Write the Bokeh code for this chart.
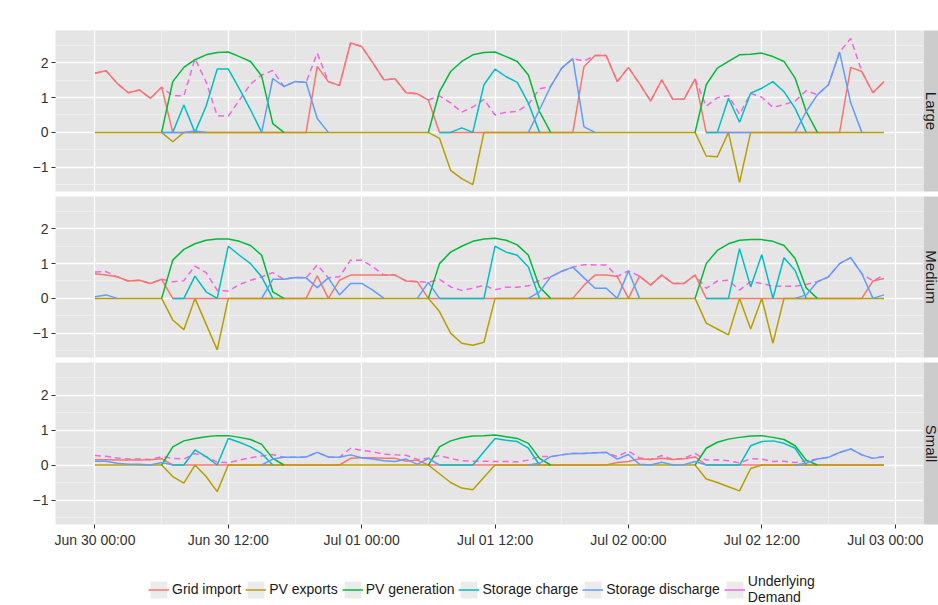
import math
import numpy as np
from bokeh.plotting import figure
from bokeh.models import (ColumnDataSource, Range1d, FixedTicker, DatetimeTickFormatter,
                          Label, Legend, LegendItem)
from bokeh.layouts import column, row
from bokeh.embed import file_html
from bokeh.resources import INLINE

N = float("nan")

# ---------------- data (hourly, Jun 30 00:00 .. Jul 02 23:00) ----------------
start = np.datetime64("2013-06-30T00:00")
hours = list(range(72))

series_names = ["Grid import", "PV exports", "PV generation", "Storage charge",
                "Storage discharge", "Underlying\nDemand"]
series_colors = ["#F8766D", "#B79F00", "#00BA38", "#00BFC4", "#619CFF", "#F564E3"]
panel_names = ["Large", "Medium", "Small"]
title_text = "Winter - QLD"
y_label = "Load (kW)"
y_ticks = [-1, 0, 1, 2]
y_minor = [-1.5, -0.5, 0.5, 1.5, 2.5]

large_grid = [
    1.70, 1.77, 1.41, 1.14, 1.22, 0.98, 1.30, 0, 0, 0, 0, 0,
    0, 0, 0, 0, 0, 0, 0, 0, 1.90, 1.46, 1.35, 2.57,
    2.47, 2.00, 1.51, 1.54, 1.14, 1.11, 0.93, 0, 0, 0, 0, 0,
    0, 0, 0, 0, 0, 0, 0, 0, 1.89, 2.21, 2.21, 1.46,
    1.87, 1.40, 0.90, 1.51, 0.95, 0.95, 1.54, 0, 0, 0, 0, 0,
    0, 0, 0, 0, 0, 0, 0, 0, 1.87, 1.75, 1.14, 1.46]
large_exports = [
    0, 0, 0, 0, 0, 0, 0, -0.27, 0, 0, 0, 0,
    0, 0, 0, 0, 0, 0, 0, 0, 0, 0, 0, 0,
    0, 0, 0, 0, 0, 0, 0, -0.17, -1.09, -1.33, -1.50, 0,
    0, 0, 0, 0, 0, 0, 0, 0, 0, 0, 0, 0,
    0, 0, 0, 0, 0, 0, 0, -0.68, -0.70, 0, -1.44, 0,
    0, 0, 0, 0, 0, 0, 0, 0, 0, 0, 0, 0]
large_pvgen = [
    N, N, N, N, N, N, 0, 1.46, 1.87, 2.09, 2.23, 2.30,
    2.31, 2.18, 2.04, 1.62, 0.25, 0, N, N, N, N, N, N,
    N, N, N, N, N, N, 0, 1.17, 1.75, 2.04, 2.23, 2.30,
    2.31, 2.18, 2.04, 1.65, 0.60, 0, N, N, N, N, N, N,
    N, N, N, N, N, N, 0, 1.37, 1.85, 2.04, 2.23, 2.25,
    2.28, 2.18, 2.04, 1.56, 0.60, 0, N, N, N, N, N, N]
large_charge = [
    N, N, N, N, N, N, 0, 0, 0.79, 0, 0.75, 1.82,
    1.82, 1.25, 0.65, 0, N, N, N, N, N, N, N, N,
    N, N, N, N, N, N, N, 0, 0, 0.13, 0, 1.37,
    1.82, 1.60, 1.44, 0.84, 0, N, N, N, N, N, N, N,
    N, N, N, N, N, N, N, 0, 0, 0.98, 0.29, 1.13,
    1.27, 1.46, 1.17, 0.69, 0, N, N, N, N, N, N, N]
large_discharge = [
    N, N, N, N, N, N, 0, 0, 0, 0.04, 0, N,
    N, N, N, 0, 1.55, 1.32, 1.46, 1.44, 0.40, 0, N, N,
    N, N, N, N, N, N, N, N, N, N, N, N,
    N, N, N, 0, 0.65, 1.32, 1.85, 2.12, 0.16, 0, N, N,
    N, N, N, N, N, N, N, N, 0, 0, 0, 0,
    N, N, N, 0, 0.60, 1.08, 1.37, 2.31, 0.85, 0, N, N]
large_demand = [
    1.70, 1.77, 1.41, 1.14, 1.22, 0.98, 1.30, 1.05, 1.05, 2.12, 1.45, 0.48,
    0.47, 0.93, 1.39, 1.65, 1.78, 1.32, 1.46, 1.44, 2.28, 1.46, 1.35, 2.57,
    2.47, 2.00, 1.51, 1.54, 1.14, 1.11, 0.93, 1.05, 0.85, 0.58, 0.73, 0.95,
    0.50, 0.58, 0.60, 0.81, 1.25, 1.32, 1.85, 2.12, 2.05, 2.21, 2.21, 1.46,
    1.87, 1.40, 0.90, 1.51, 0.95, 0.95, 1.54, 0.75, 1.00, 1.06, 0.52, 1.12,
    1.01, 0.72, 0.80, 0.90, 1.20, 1.08, 1.37, 2.31, 2.70, 1.75, 1.14, 1.46]

medium_grid = [
    0.71, 0.67, 0.62, 0.50, 0.52, 0.43, 0.55, 0, 0, 0, 0, 0,
    0, 0, 0, 0, 0, 0, 0, 0, 0.65, 0, 0.52, 0.67,
    0.67, 0.67, 0.67, 0.67, 0.50, 0.48, 0, 0, 0, 0, 0, 0,
    0, 0, 0, 0, 0, 0, 0, 0, 0.38, 0.67, 0.67, 0.63,
    0, 0.64, 0.38, 0.67, 0.43, 0.43, 0.67, 0, 0, 0, 0, 0,
    0, 0, 0, 0, 0, 0, 0, 0, 0, 0, 0.50, 0.57]
medium_exports = [
    0, 0, 0, 0, 0, 0, 0, -0.62, -0.90, 0, -0.74, -1.48,
    0, 0, 0, 0, 0, 0, 0, 0, 0, 0, 0, 0,
    0, 0, 0, 0, 0, 0, 0, -0.38, -1.00, -1.29, -1.35, -1.26,
    0, 0, 0, 0, 0, 0, 0, 0, 0, 0, 0, 0,
    0, 0, 0, 0, 0, 0, 0, -0.71, -0.88, -1.05, 0, -0.88,
    0, -1.29, 0, 0, 0, 0, 0, 0, 0, 0, 0, 0]
medium_pvgen = [
    N, N, N, N, N, N, 0, 1.10, 1.41, 1.57, 1.67, 1.71,
    1.71, 1.64, 1.52, 1.24, 0.19, 0, N, N, N, N, N, N,
    N, N, N, N, N, N, 0, 1.00, 1.33, 1.50, 1.64, 1.71,
    1.73, 1.67, 1.54, 1.24, 0.33, 0, N, N, N, N, N, N,
    N, N, N, N, N, N, 0, 1.00, 1.38, 1.57, 1.67, 1.69,
    1.69, 1.64, 1.52, 1.15, 0.30, 0, N, N, N, N, N, N]
medium_charge = [
    N, N, N, N, N, N, N, 0, 0, 0.64, 0.19, 0,
    1.50, 1.24, 1.00, 0.62, 0, N, N, N, N, N, N, N,
    N, N, N, N, N, N, N, 0, 0, 0, 0, 0,
    1.50, 1.33, 1.24, 0.90, 0, N, N, N, N, N, N, N,
    N, N, N, N, N, N, N, 0, 0, 0, 1.43, 0.33,
    1.26, 0, 1.17, 0.80, 0, N, N, N, N, N, N, N]
medium_discharge = [
    0.05, 0.10, 0, N, N, N, N, N, N, N, N, N,
    N, N, N, 0, 0.55, 0.55, 0.60, 0.59, 0.31, 0.59, 0.10, 0.43,
    0.43, 0.24, 0, N, N, 0, 0.46, 0, N, N, N, N,
    N, N, N, 0, 0.19, 0.62, 0.78, 0.90, 0.59, 0.29, 0.29, 0,
    0.79, 0, N, N, N, N, N, N, N, N, N, N,
    N, N, N, 0, 0.10, 0.48, 0.62, 1.00, 1.17, 0.71, 0, 0.10]
medium_demand = [
    0.76, 0.77, 0.62, 0.50, 0.52, 0.43, 0.55, 0.48, 0.51, 0.93, 0.74, 0.23,
    0.21, 0.40, 0.52, 0.62, 0.74, 0.55, 0.60, 0.59, 0.96, 0.59, 0.62, 1.10,
    1.10, 0.91, 0.67, 0.67, 0.50, 0.48, 0.46, 0.55, 0.33, 0.23, 0.29, 0.38,
    0.25, 0.32, 0.32, 0.36, 0.52, 0.62, 0.78, 0.90, 0.97, 0.96, 0.96, 0.63,
    0.79, 0.64, 0.38, 0.67, 0.43, 0.43, 0.67, 0.29, 0.50, 0.52, 0.24, 0.48,
    0.43, 0.35, 0.35, 0.35, 0.40, 0.48, 0.62, 1.00, 1.17, 0.71, 0.50, 0.67]

small_grid = [
    0.15, 0.15, 0.14, 0.14, 0.14, 0.15, 0.18, 0, 0, 0, 0, 0,
    0, 0, 0, 0, 0, 0, 0, 0, 0, 0, 0, 0.19,
    0.21, 0.21, 0.19, 0.19, 0.11, 0.14, 0, 0, 0, 0, 0, 0,
    0, 0, 0, 0, 0, 0, 0, 0, 0, 0, 0, 0.07,
    0.10, 0.18, 0.16, 0.19, 0.16, 0.18, 0.23, 0, 0, 0, 0, 0,
    0, 0, 0, 0, 0, 0, 0, 0, 0, 0, 0, 0]
small_exports = [
    0, 0, 0, 0, 0, 0, 0, -0.33, -0.52, 0, -0.33, -0.76,
    0, 0, 0, 0, 0, 0, 0, 0, 0, 0, 0, 0,
    0, 0, 0, 0, 0, 0, 0, -0.25, -0.50, -0.66, -0.71, -0.35,
    0, 0, 0, 0, 0, 0, 0, 0, 0, 0, 0, 0,
    0, 0, 0, 0, 0, 0, 0, -0.40, -0.50, -0.62, -0.74, -0.10,
    0, 0, 0, 0, 0, 0, 0, 0, 0, 0, 0, 0]
small_pvgen = [
    N, N, N, N, N, N, 0, 0.52, 0.69, 0.76, 0.81, 0.84,
    0.84, 0.79, 0.73, 0.59, 0.19, 0, N, N, N, N, N, N,
    N, N, N, N, N, N, 0, 0.52, 0.69, 0.78, 0.83, 0.84,
    0.86, 0.81, 0.76, 0.62, 0.19, 0, N, N, N, N, N, N,
    N, N, N, N, N, N, 0, 0.48, 0.65, 0.74, 0.79, 0.83,
    0.84, 0.79, 0.73, 0.55, 0.14, 0, N, N, N, N, N, N]
small_charge = [
    N, N, N, N, N, N, N, 0, 0, 0.43, 0.24, 0,
    0.76, 0.65, 0.52, 0.33, 0, N, N, N, N, N, N, N,
    N, N, N, N, N, N, N, 0, 0, 0, 0, 0.38,
    0.76, 0.71, 0.67, 0.48, 0, N, N, N, N, N, N, N,
    N, N, N, N, N, N, N, 0, 0, 0, 0, 0.55,
    0.67, 0.69, 0.62, 0.48, 0, N, N, N, N, N, N, N]
small_discharge = [
    0.11, 0.11, 0.05, 0.02, 0.02, 0, 0.07, 0, N, N, N, N,
    N, N, N, 0, 0.17, 0.22, 0.22, 0.23, 0.36, 0.23, 0.22, 0.29,
    0.21, 0.17, 0.12, 0.10, 0.17, 0.02, 0.19, 0, N, N, N, N,
    N, N, N, 0, 0.05, 0.24, 0.29, 0.33, 0.33, 0.35, 0.36, 0.17,
    0.30, 0.02, 0, 0.08, 0, 0.01, 0.10, 0, N, N, N, N,
    N, N, N, 0, 0.05, 0.17, 0.22, 0.36, 0.46, 0.29, 0.19, 0.24]
small_demand = [
    0.27, 0.25, 0.20, 0.17, 0.17, 0.16, 0.24, 0.19, 0.17, 0.33, 0.24, 0.08,
    0.07, 0.14, 0.21, 0.26, 0.30, 0.22, 0.22, 0.23, 0.36, 0.23, 0.22, 0.48,
    0.42, 0.38, 0.31, 0.29, 0.28, 0.16, 0.19, 0.27, 0.19, 0.12, 0.11, 0.11,
    0.10, 0.10, 0.09, 0.14, 0.24, 0.24, 0.29, 0.33, 0.33, 0.35, 0.36, 0.24,
    0.40, 0.20, 0.16, 0.27, 0.16, 0.19, 0.33, 0.14, 0.15, 0.12, 0.06, 0.18,
    0.17, 0.10, 0.11, 0.07, 0.12, 0.17, 0.22, 0.36, 0.46, 0.29, 0.19, 0.24]

panel_data = {
    "Large": [large_grid, large_exports, large_pvgen, large_charge, large_discharge, large_demand],
    "Medium": [medium_grid, medium_exports, medium_pvgen, medium_charge, medium_discharge, medium_demand],
    "Small": [small_grid, small_exports, small_pvgen, small_charge, small_discharge, small_demand],
}
for k, v in panel_data.items():
    for s in v:
        assert len(s) == 72, (k, len(s))

# ---------------- layout constants ----------------
FONT = "Liberation Sans"
HOUR_MS = 3600000
t0 = int(start.astype("datetime64[ms]").astype("int64"))
t_ms = [float(t0 + h * HOUR_MS) for h in hours]
x_range = Range1d(t_ms[0] - 3.55 * HOUR_MS, t_ms[-1] + 3.55 * HOUR_MS)
y_lo, y_hi = -1.70, 2.93

LEFT = 55
FRAME_W = 868
STRIP_W = 15

x_major = [float(t0 + k * 12 * HOUR_MS) for k in range(7)]
x_minor = [float(t0 + k * 6 * HOUR_MS) for k in range(-1, 14)]

fmt = "%b %d %H:%M"
x_formatter = DatetimeTickFormatter(hours=fmt, hourmin=fmt, days=fmt, minutes=fmt,
                                    minsec=fmt, months=fmt, years=fmt)


def make_panel(name, top, frame_h, bottom, show_x):
    d = panel_data[name]
    src = ColumnDataSource(dict(t=t_ms, **{f"s{i}": d[i] for i in range(6)}))
    p = figure(width=LEFT + FRAME_W, height=top + frame_h + bottom,
               x_axis_type="datetime", x_range=x_range, y_range=Range1d(y_lo, y_hi),
               output_backend="svg", toolbar_location=None,
               min_border_left=LEFT, min_border_right=0,
               min_border_top=top, min_border_bottom=bottom,
               background_fill_color="#E5E5E5", border_fill_color="white",
               outline_line_color=None)
    xt = FixedTicker(ticks=x_major, minor_ticks=x_minor)
    yt = FixedTicker(ticks=y_ticks, minor_ticks=y_minor)
    p.xaxis.ticker = xt
    p.yaxis.ticker = yt
    p.xgrid.ticker = xt
    p.ygrid.ticker = yt
    p.xaxis.formatter = x_formatter
    for g in (p.xgrid, p.ygrid):
        g.grid_line_color = "white"
        g.grid_line_width = 1.3
        g.minor_grid_line_color = "#F2F2F2"
        g.minor_grid_line_width = 0.7
    for ax in p.axis:
        ax.axis_line_color = None
        ax.major_tick_line_color = "#333333"
        ax.major_tick_out = 4
        ax.major_tick_in = 0
        ax.minor_tick_line_color = None
        ax.major_label_text_font = FONT
        ax.major_label_text_font_size = "14px"
        ax.major_label_text_color = "#333333"
        ax.major_label_standoff = 3
    if not show_x:
        p.xaxis.visible = False
    # draw order: demand (dashed) underneath, then the rest
    p.line("t", "s5", source=src, line_color=series_colors[5], line_width=1.5,
           line_dash="6 4")
    for i in range(5):
        p.line("t", f"s{i}", source=src, line_color=series_colors[i], line_width=1.5)

    s = figure(width=STRIP_W, height=top + frame_h + bottom,
               x_range=Range1d(0, 1), y_range=Range1d(0, 1),
               output_backend="svg", toolbar_location=None,
               min_border_left=0, min_border_right=0,
               min_border_top=top, min_border_bottom=bottom,
               background_fill_color="#CCCCCC", border_fill_color="white",
               outline_line_color=None, x_axis_location=None, y_axis_location=None)
    s.grid.visible = False
    s.add_layout(Label(x=0.5, y=0.5, text=name, angle=-math.pi / 2,
                       text_align="center", text_baseline="middle",
                       text_font=FONT, text_font_size="15px", text_color="#1A1A1A"))
    return p, s


p_large, s_large = make_panel("Large", 30, 161, 2, False)
p_medium, s_medium = make_panel("Medium", 3, 161, 2, False)
p_small, s_small = make_panel("Small", 3, 162, 36, True)

p_large.add_layout(Label(x=FRAME_W / 2, y=161 + 13, x_units="screen", y_units="screen",
                         text=title_text, text_align="center", text_baseline="middle",
                         text_font=FONT, text_font_size="15px", text_color="black"))
p_medium.add_layout(Label(x=-33, y=80.5, x_units="screen", y_units="screen",
                          text=y_label, angle=math.pi / 2, text_align="center",
                          text_baseline="middle", text_font=FONT, text_font_size="15px",
                          text_font_style="bold", text_color="black"))

# ---------------- legend ----------------
lf = figure(width=LEFT + FRAME_W + STRIP_W, height=45, x_range=Range1d(0, 1),
            y_range=Range1d(0, 1), output_backend="svg", toolbar_location=None,
            min_border=0, outline_line_color=None, x_axis_location=None,
            y_axis_location=None, border_fill_color="white", background_fill_color="white")
lf.grid.visible = False
items = []
for name, color in zip(series_names, series_colors):
    bg = lf.quad(left=[N], right=[N], top=[N], bottom=[N], fill_color="#EBEBEB",
                 line_color=None)
    ln = lf.line(x=[N], y=[N], line_color=color, line_width=1.5)
    items.append(LegendItem(label=name, renderers=[bg, ln]))
legend = Legend(items=items, orientation="horizontal", location=(148, 0),
                glyph_width=21, glyph_height=21, label_standoff=3, spacing=4,
                padding=0, margin=0, border_line_color=None, background_fill_alpha=0,
                label_text_font=FONT, label_text_font_size="14px",
                label_text_color="#1A1A1A")
lf.add_layout(legend)

layout = column(row(p_large, s_large), row(p_medium, s_medium), row(p_small, s_small), lf)

open("out.html", "w").write(file_html(layout, INLINE))
